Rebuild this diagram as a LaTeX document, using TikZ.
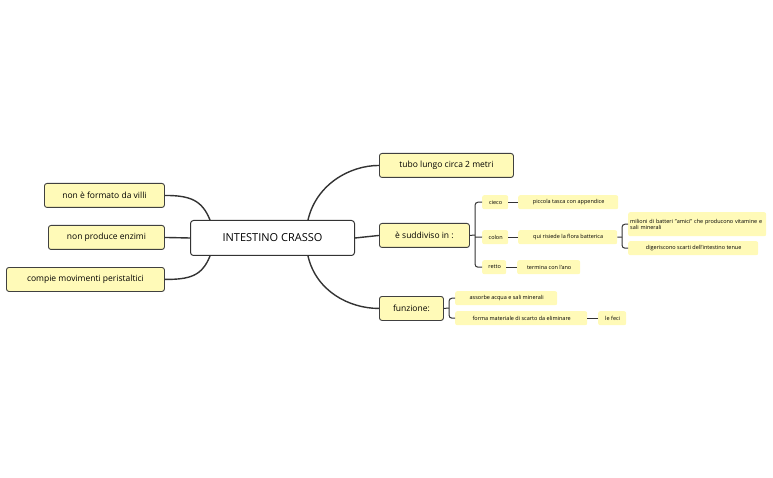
\documentclass[tikz,border=0pt]{standalone}
\usepackage{fontspec}
\setmainfont{Open Sans}
\begin{document}
\begin{tikzpicture}[x=1pt,y=-1pt,
  big/.style={draw=black!75,line width=0.9pt,fill=yellow1,rounded corners=2.5pt,font=\fontsize{8.5}{10}\selectfont,inner sep=0pt,anchor=north west},
  sm/.style={fill=yellow1,rounded corners=2pt,font=\fontsize{5.5}{6.5}\selectfont,inner sep=0pt,anchor=north west,align=left},
  ln/.style={draw=black!80,line width=1.4pt},
  br/.style={draw=black!80,line width=1pt,rounded corners=3pt}]
\definecolor{yellow1}{HTML}{FFFAB8}
\useasboundingbox (0,0) rectangle (773,478);
\node[draw=black!80,line width=1pt,fill=white,rounded corners=3pt,minimum width=164pt,minimum height=35pt,anchor=north west,font=\fontsize{11}{13}\selectfont] (c) at (190,220) {INTESTINO CRASSO};
\node[big,minimum width=120pt,minimum height=24pt] (l1) at (44,183) {non è formato da villi};
\node[big,minimum width=116pt,minimum height=24pt] (l2) at (48,225) {non produce enzimi};
\node[big,minimum width=158pt,minimum height=24pt] (l3) at (6,267) {compie movimenti peristaltici};
\node[big,minimum width=134pt,minimum height=24pt] (r1) at (379,153) {tubo lungo circa 2 metri};
\node[big,minimum width=90pt,minimum height=24pt] (r2) at (379,223) {è suddiviso in :};
\node[big,minimum width=64pt,minimum height=24pt] (r3) at (379,296) {funzione:};
\node[sm,minimum width=26pt,minimum height=14pt] (cieco) at (482,195) {\,cieco};
\node[sm,minimum width=100pt,minimum height=14pt] (pic) at (518,195) {\,piccola tasca con appendice};
\node[sm,minimum width=26pt,minimum height=14pt] (colon) at (482,230) {\,colon};
\node[sm,minimum width=99pt,minimum height=14pt] (qui) at (518,230) {\,qui risiede la flora batterica};
\node[sm,minimum width=138pt,minimum height=24pt,text width=134pt] (mil) at (628,212) {milioni di batteri "amici" che producono vitamine e sali minerali};
\node[sm,minimum width=130pt,minimum height=14pt] (dig) at (628,241) {\,digeriscono scarti dell'intestino tenue};
\node[sm,minimum width=24pt,minimum height=14pt] (retto) at (482,260) {\,retto};
\node[sm,minimum width=63pt,minimum height=14pt] (ter) at (517,260) {\,termina con l'ano};
\node[sm,minimum width=102pt,minimum height=14pt] (ass) at (455,291) {\,assorbe acqua e sali minerali};
\node[sm,minimum width=132pt,minimum height=14pt] (for) at (455,311) {\,forma materiale di scarto da eliminare};
\node[sm,minimum width=28pt,minimum height=14pt] (fec) at (598,311) {\,le feci};
% main curves
\draw[ln] (c.north east)++(-47,0) .. controls +(8,-35) and +(-30,0) .. (r1.west);
\draw[ln] (c.east) -- (r2.west);
\draw[ln] (c.south east)++(-47,0) .. controls +(8,35) and +(-30,0) .. (r3.west);
\draw[ln] (c.north west)++(20,0) .. controls +(-8,-20) and +(25,0) .. (l1.east);
\draw[ln] (c.west) -- (l2.east);
\draw[ln] (c.south west)++(20,0) .. controls +(-8,20) and +(25,0) .. (l3.east);
% brackets
\draw[br] (r2.east) -- (475,235);
\draw[br] (cieco.west) -| (475,237) |- (retto.west);
\draw[br] (475,237) -- (colon.west);
\draw[br] (cieco.east) -- (pic.west);
\draw[br] (colon.east) -- (qui.west);
\draw[br] (retto.east) -- (ter.west);
\draw[br] (qui.east) -- (622,237);
\draw[br] (mil.west) -| (622,237) |- (dig.west);
\draw[br] (r3.east) -- (449,308);
\draw[br] (ass.west) -| (449,308) |- (for.west);
\draw[br] (for.east) -- (fec.west);
\end{tikzpicture}
\end{document}
